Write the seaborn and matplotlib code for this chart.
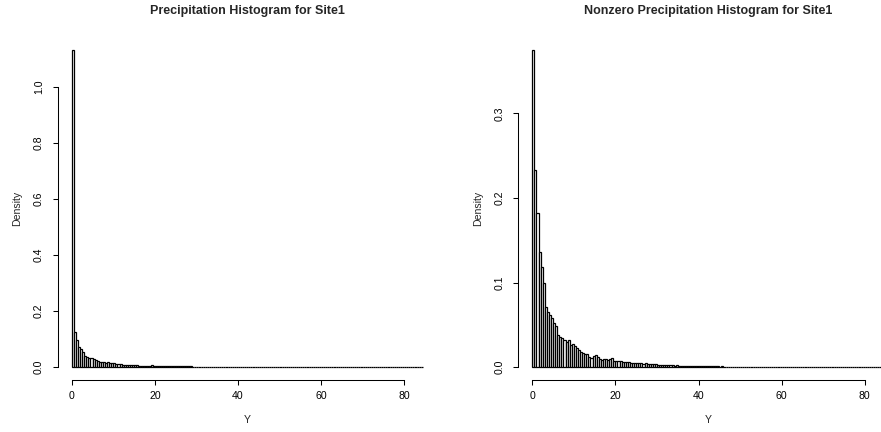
import numpy as np
import pandas as pd
import matplotlib
matplotlib.use("Agg")
import matplotlib.pyplot as plt
import seaborn as sns

# ---- data (density per 0.5-wide bin, starting at 0) ----
bin_width = 0.5

all_density = [
    1.132, 0.124, 0.097, 0.073, 0.063, 0.053, 0.038, 0.035, 0.033, 0.031,
    0.028, 0.026, 0.020, 0.019, 0.018, 0.017, 0.016, 0.017, 0.014, 0.0144,
    0.0134, 0.0117, 0.0107, 0.0096, 0.0085, 0.008, 0.008, 0.0064, 0.0059, 0.0069,
    0.0075, 0.0064, 0.0048, 0.0043, 0.0053, 0.0053, 0.0043, 0.0048, 0.0059, 0.004,
    0.004, 0.0037, 0.0036, 0.0032, 0.0035, 0.0032, 0.0031, 0.0027, 0.0028, 0.0027,
    0.0026, 0.0024, 0.0025, 0.0021, 0.0022, 0.002, 0.0019, 0.0019, 0.0017, 0.0016,
    0.0015,
    0.0014, 0.0013, 0.0014, 0.0012, 0.0011, 0.0012, 0.0010, 0.0010, 0.0011, 0.0009,
    0.0009, 0.0009, 0.0008, 0.0007, 0.0009, 0.0007, 0.0006, 0.0007, 0.0006, 0.0006,
    0.0005, 0.0006, 0.0005, 0.0005, 0.0004, 0.0005, 0.0004, 0.0004, 0.0004, 0.0003,
    0.0004, 0.0003, 0.0003, 0.0003, 0.0003, 0.0002, 0.0003, 0.0002, 0.0002, 0.0002,
    0.0002, 0.0002, 0.0002, 0.0002, 0.0001, 0.0002, 0.0001, 0.0002, 0.0001, 0.0001,
    0.0001, 0.0001, 0.0001, 0.0001, 0.0001, 0.0001, 0.0001, 0.0001, 0.0001, 0.0001,
    0.0001, 0.0001, 0.0, 0.0001, 0.0001, 0.0, 0.0001, 0.0, 0.0001, 0.0001,
    0.0, 0.0001, 0.0, 0.0, 0.0001, 0.0, 0.0001, 0.0, 0.0, 0.0001,
    0.0, 0.0, 0.0001, 0.0, 0.0, 0.0, 0.0001, 0.0, 0.0, 0.0001,
    0.0, 0.0, 0.0, 0.0001, 0.0, 0.0, 0.0, 0.0, 0.0001, 0.0,
    0.0, 0.0, 0.0001, 0.0, 0.0, 0.0, 0.0, 0.0001,
]

nonzero_density = [
    0.375, 0.233, 0.182, 0.136, 0.118, 0.099, 0.071, 0.065, 0.061, 0.058,
    0.052, 0.048, 0.038, 0.036, 0.034, 0.032, 0.030, 0.032, 0.026, 0.027,
    0.025, 0.022, 0.020, 0.018, 0.016, 0.015, 0.015, 0.012, 0.011, 0.013,
    0.014, 0.012, 0.009, 0.008, 0.010, 0.010, 0.008, 0.009, 0.011, 0.0075,
    0.0075, 0.007, 0.0067, 0.006, 0.0065, 0.006, 0.0058, 0.005, 0.0052, 0.005,
    0.0048, 0.0045, 0.0046, 0.004, 0.0042, 0.0038, 0.0035, 0.0036, 0.0032, 0.003,
    0.0028,
    0.0026, 0.0024, 0.0027, 0.0022, 0.0021, 0.0023, 0.0019, 0.0018, 0.0020, 0.0017,
    0.0016, 0.0017, 0.0015, 0.0014, 0.0016, 0.0013, 0.0012, 0.0014, 0.0011, 0.0012,
    0.0010, 0.0011, 0.0009, 0.0010, 0.0008, 0.0009, 0.0008, 0.0007, 0.0008, 0.0006,
    0.0007, 0.0006, 0.0005, 0.0006, 0.0005, 0.0004, 0.0005, 0.0004, 0.0004, 0.0003,
    0.0004, 0.0003, 0.0003, 0.0004, 0.0002, 0.0003, 0.0002, 0.0003, 0.0002, 0.0002,
    0.0001, 0.0002, 0.0002, 0.0001, 0.0002, 0.0001, 0.0001, 0.0002, 0.0001, 0.0001,
    0.0001, 0.0001, 0.0, 0.0001, 0.0001, 0.0, 0.0001, 0.0, 0.0001, 0.0001,
    0.0, 0.0001, 0.0, 0.0, 0.0001, 0.0, 0.0001, 0.0, 0.0, 0.0001,
    0.0, 0.0, 0.0001, 0.0, 0.0, 0.0, 0.0001, 0.0, 0.0, 0.0001,
    0.0, 0.0, 0.0, 0.0001, 0.0, 0.0, 0.0, 0.0, 0.0001, 0.0,
    0.0, 0.0, 0.0001, 0.0, 0.0, 0.0, 0.0, 0.0001,
]

titles = ["Precipitation Histogram for Site1", "Nonzero Precipitation Histogram for Site1"]
x_ticks = [0, 20, 40, 60, 80]
y_ticks_all = [0.0, 0.2, 0.4, 0.6, 0.8, 1.0]
y_ticks_nonzero = [0.0, 0.1, 0.2, 0.3]
x_label = "Y"
y_label = "Density"

# ---- style ----
sns.set_theme(style="white")
plt.rcParams["font.family"] = ["Liberation Sans", "DejaVu Sans"]

W, H = 881, 432
fig = plt.figure(figsize=(W / 100, H / 100), dpi=100)

def px_axes(left, top, right, bottom):
    return fig.add_axes([left / W, 1 - bottom / H, (right - left) / W, (bottom - top) / H])

ax1 = px_axes(57.7, 37.4, 436.8, 379.7)
ax2 = px_axes(518.3, 37.4, 897.4, 379.7)

for ax, dens, title, yt in [(ax1, all_density, titles[0], y_ticks_all),
                            (ax2, nonzero_density, titles[1], y_ticks_nonzero)]:
    n = len(dens)
    edges = [i * bin_width for i in range(n + 1)]
    centers = [(edges[i] + edges[i + 1]) / 2 for i in range(n)]
    df = pd.DataFrame({"Y": centers, "w": dens})
    sns.histplot(data=df, x="Y", weights="w", bins=edges, stat="count",
                 color="white", edgecolor="black", linewidth=0.9, alpha=1,
                 ax=ax)
    xmax = edges[-1]
    ymax = max(dens)
    ax.set_xlim(-0.04 * xmax, xmax * 1.04)
    ax.set_ylim(-0.04 * ymax, ymax * 1.04)

    for s in ["top", "right"]:
        ax.spines[s].set_visible(False)
    for s in ["left", "bottom"]:
        ax.spines[s].set_linewidth(0.75)
        ax.spines[s].set_color("black")
    ax.spines["bottom"].set_bounds(x_ticks[0], x_ticks[-1])
    ax.spines["left"].set_bounds(yt[0], yt[-1])

    ax.set_xticks(x_ticks)
    ax.set_xticklabels([str(t) for t in x_ticks])
    ax.set_yticks(yt)
    ax.set_yticklabels([f"{t:.1f}" for t in yt], rotation=90, va="center")
    ax.tick_params(axis="both", direction="out", length=3.6, width=0.75,
                   colors="black", labelsize=7.6)
    ax.tick_params(axis="x", pad=4.7)
    ax.tick_params(axis="y", pad=6.3)
    ax.tick_params(left=True, bottom=True)

    ax.set_xlabel(x_label, fontsize=7.6, labelpad=9.7)
    ax.set_ylabel(y_label, fontsize=7.6, labelpad=8.3)
    ax.set_title(title, fontsize=9, fontweight="bold", pad=16.5)
    ax.grid(False)
    ax.set_facecolor("none")

fig.savefig("out.png", dpi=100, facecolor="white")
